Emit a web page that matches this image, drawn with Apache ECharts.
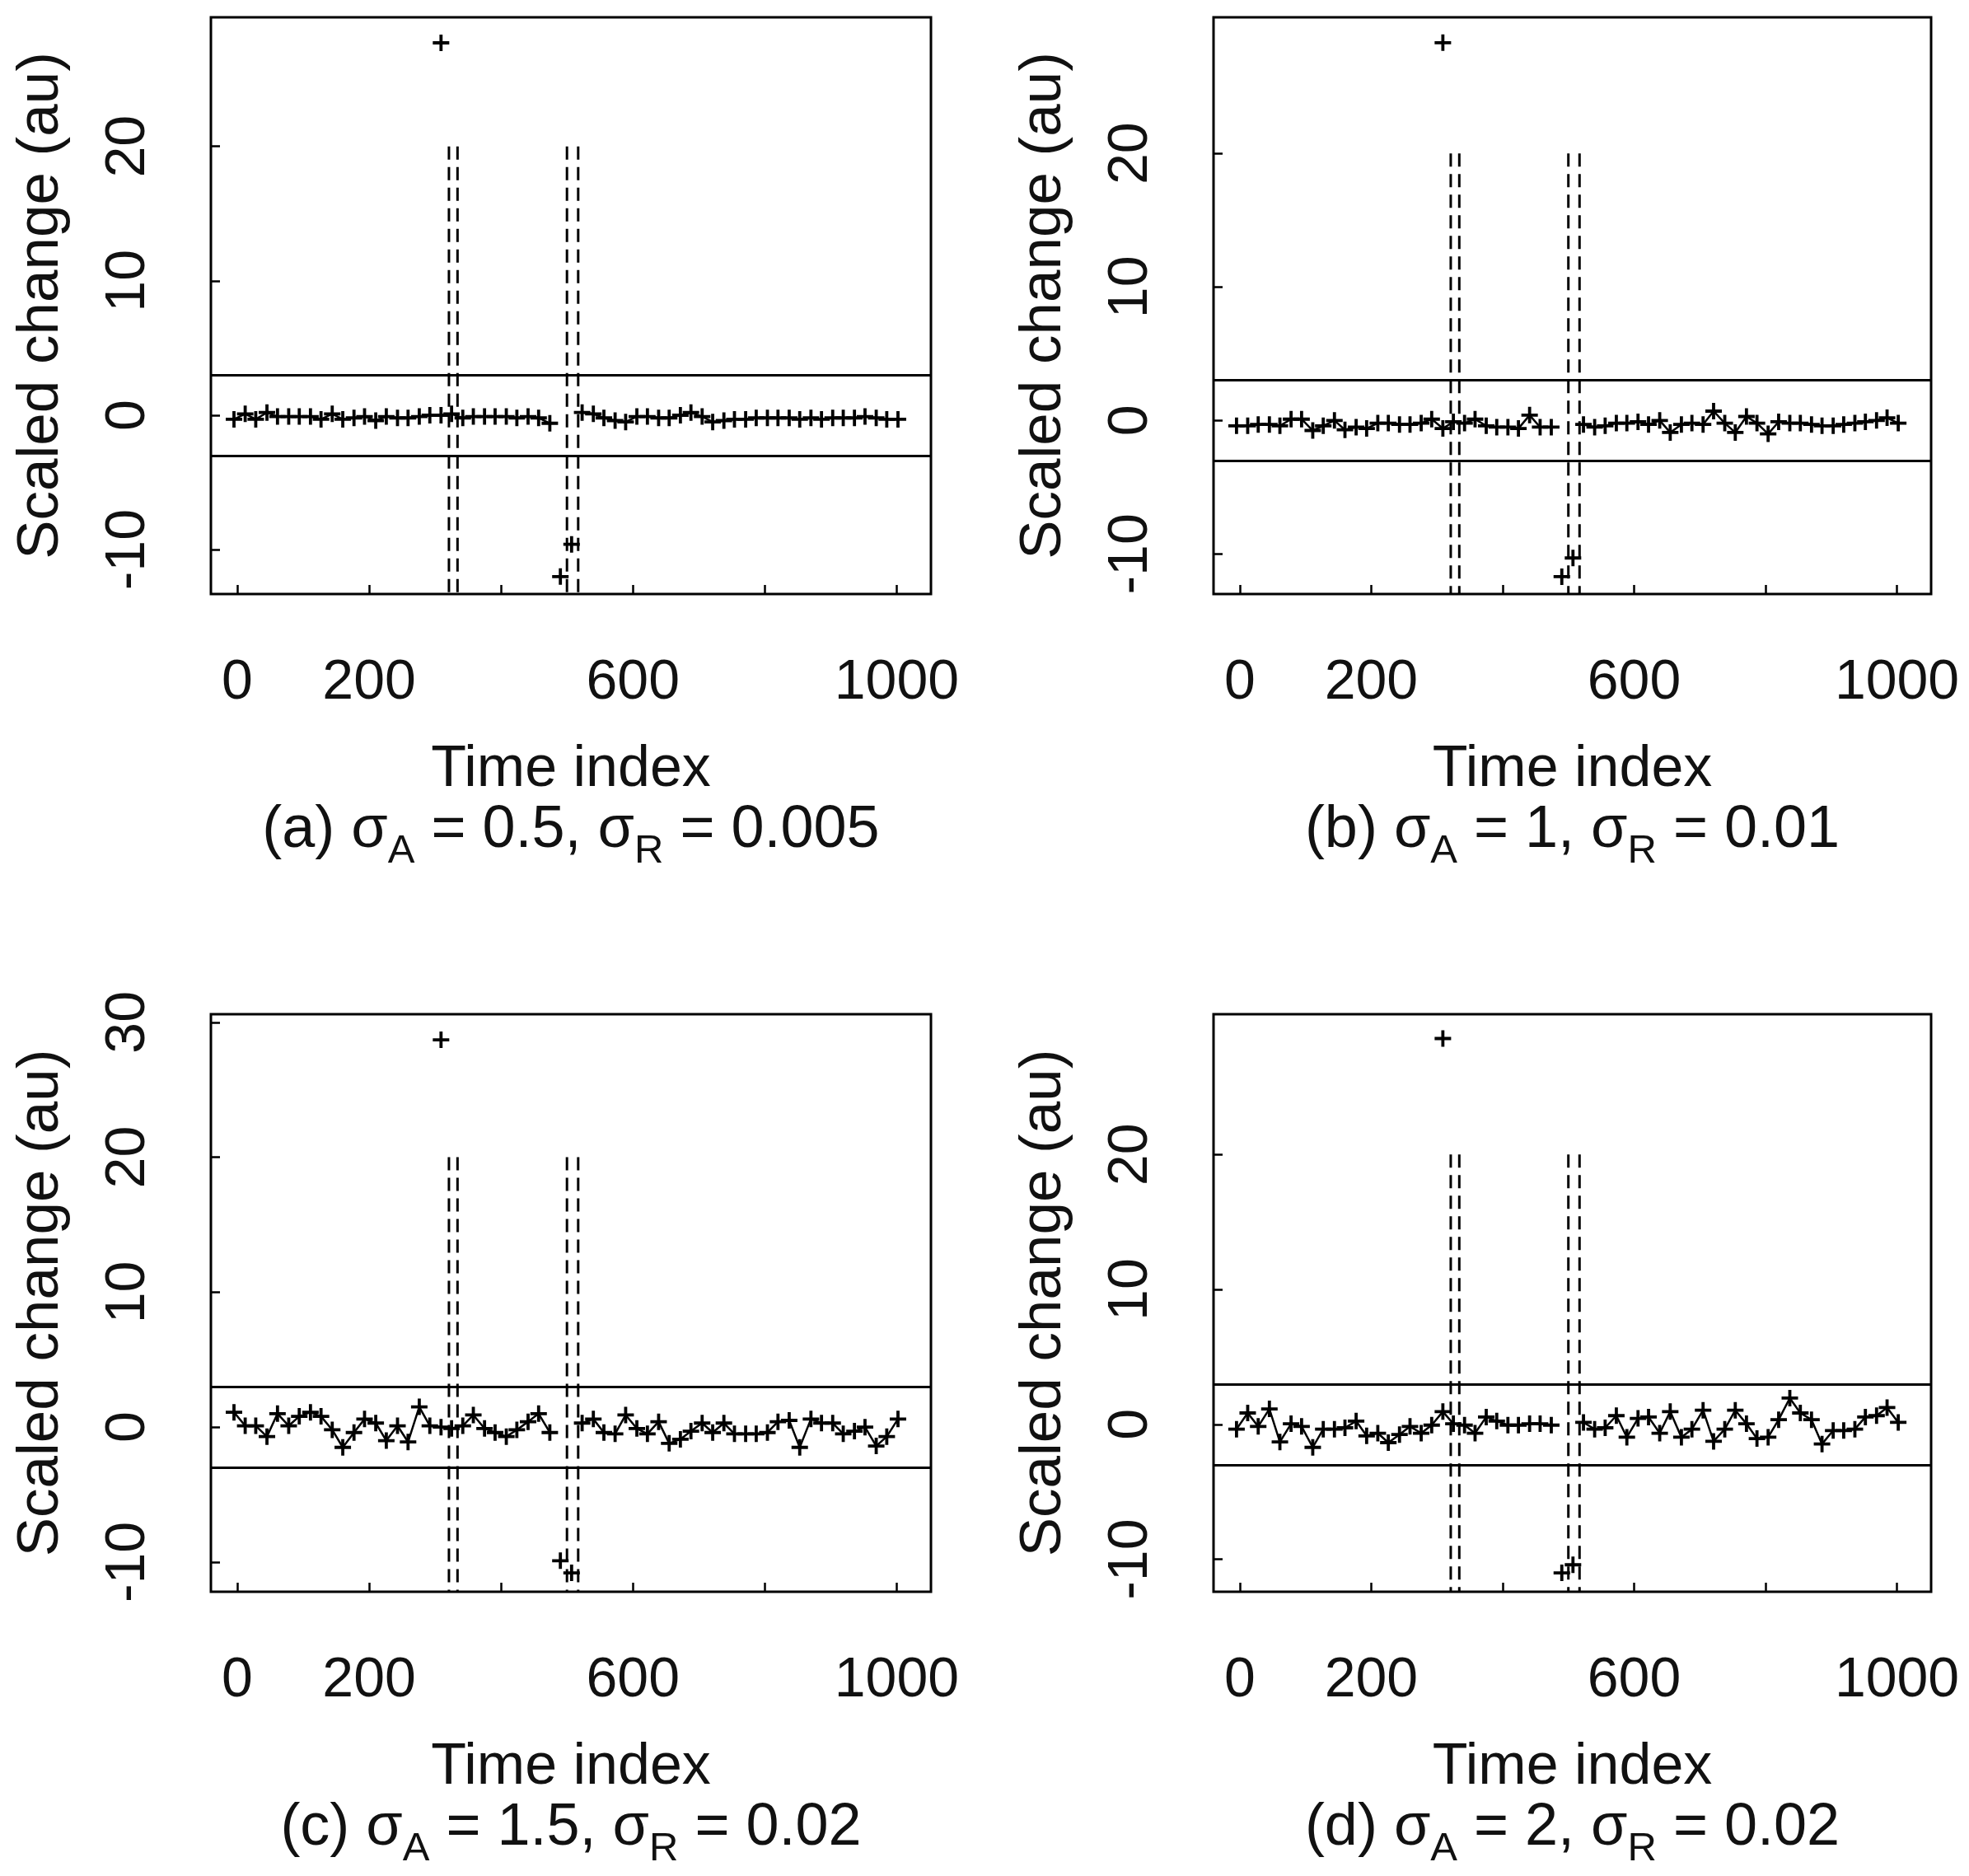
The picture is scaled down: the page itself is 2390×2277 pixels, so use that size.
<!DOCTYPE html>
<html lang="en">
<head>
<meta charset="UTF-8">
<title>Scaled change</title>
<script src="https://cdn.jsdelivr.net/npm/echarts@6/dist/echarts.min.js"></script>
<style>
    html, body { margin: 0; padding: 0; background: #fff; }
    #container { width: 2390px; height: 2277px; }
</style>
</head>
<body>
<div id="container"></div>
<script>
    // time index of the plotted points (shared by the four panels)
    var timeIndex = [-5, 12, 28, 45, 61, 78, 94, 111, 127, 144,
        160, 177, 193, 210, 226, 243, 259, 276, 292, 309,
        325, 342, 358, 375, 391, 408, 424, 441, 457, 474,
        490, 507, 523, 540, 556, 573, 589, 606, 622, 639,
        655, 672, 688, 705, 721, 738, 754, 771, 787, 804,
        820, 837, 853, 870, 886, 903, 919, 936, 952, 969,
        985, 1002];

    // scaled change, '-' = no point (line broken)
    var changeA = [-0.3, 0.1, -0.3, 0.2, -0.1, -0.1, -0.1, -0.1, -0.3, 0.1,
        -0.3, -0.2, -0.1, -0.4, -0.1, -0.2, -0.2, -0.1, 0.0, 0.0,
        0.1, -0.2, -0.1, -0.1, -0.1, -0.1, -0.2, -0.1, -0.2, -0.6,
        '-', '-',
        0.2, 0.1, -0.2, -0.4, -0.5, -0.1, -0.1, -0.2, -0.2, 0.0,
        0.2, -0.1, -0.5, -0.4, -0.3, -0.3, -0.2, -0.2, -0.2, -0.2,
        -0.3, -0.2, -0.3, -0.2, -0.2, -0.2, -0.1, -0.2, -0.3, -0.3];
    var changeB = [-0.4, -0.4, -0.3, -0.3, -0.4, 0.1, 0.1, -0.75, -0.4, 0.0,
        -0.7, -0.5, -0.6, -0.2, -0.2, -0.3, -0.3, -0.2, 0.1, -0.6,
        -0.1, -0.2, 0.1, -0.4, -0.5, -0.5, -0.6, 0.4, -0.5, -0.5,
        '-', '-',
        -0.3, -0.5, -0.4, -0.2, -0.2, -0.1, -0.3, 0.0, -0.9, -0.3,
        -0.2, -0.3, 0.7, -0.2, -0.9, 0.3, -0.2, -1.0, -0.1, -0.2,
        -0.2, -0.3, -0.4, -0.4, -0.3, -0.2, -0.1, 0.0, 0.2, -0.2];
    var changeC = [1.1, 0.1, 0.1, -0.7, 1.0, 0.1, 0.8, 1.1, 0.8, -0.2,
        -1.5, -0.4, 0.6, 0.3, -1.0, 0.1, -1.1, 1.5, 0.1, 0.0,
        -0.1, 0.1, 0.9, -0.1, -0.4, -0.7, -0.2, 0.4, 1.0, -0.4,
        '-', '-',
        0.3, 0.6, -0.4, -0.5, 0.9, -0.1, -0.5, 0.4, -1.2, -0.9,
        -0.3, 0.3, -0.4, 0.3, -0.5, -0.5, -0.5, -0.4, 0.4, 0.5,
        -1.5, 0.6, 0.3, 0.3, -0.5, -0.3, 0.0, -1.4, -0.7, 0.6];
    var changeD = [-0.35, 0.85, -0.15, 1.15, -1.3, 0.05, -0.15, -1.7, -0.35, -0.35,
        -0.25, 0.25, -0.85, -0.65, -1.35, -0.75, -0.15, -0.65, -0.05, 0.95,
        0.05, -0.05, -0.65, 0.55, 0.25, -0.05, -0.05, 0.05, 0.05, -0.05,
        '-', '-',
        0.15, -0.35, -0.25, 0.65, -0.95, 0.45, 0.55, -0.65, 0.95, -0.95,
        -0.35, 1.05, -1.25, -0.35, 1.05, 0.05, -1.05, -0.95, 0.35, 1.95,
        0.85, 0.35, -1.45, -0.45, -0.45, -0.35, 0.55, 0.65, 1.25, 0.15];

    // the three large changes
    var outlierIndex = [309, 490, 507];
    var outlierA = [27.7, -12.0, -9.6];
    var outlierB = [28.3, -11.7, -10.3];
    var outlierC = [28.7, -9.9, -10.8];
    var outlierD = [28.6, -11.0, -10.4];

    var limits = [3, -3];
    var changePoints = [321, 334, 500, 517];
    var changeTop = 20;

    var xTicks = [0, 200, 400, 600, 800, 1000];
    var xLabels = [0, 200, 600, 1000];
    var yTicks = [-10, 0, 10, 20];
    var yTicksC = [-10, 0, 10, 20, 30];

    var captions = [
        '{m|(a) σ}{s|A}{m| = 0.5, σ}{s|R}{m| = 0.005}',
        '{m|(b) σ}{s|A}{m| = 1, σ}{s|R}{m| = 0.01}',
        '{m|(c) σ}{s|A}{m| = 1.5, σ}{s|R}{m| = 0.02}',
        '{m|(d) σ}{s|A}{m| = 2, σ}{s|R}{m| = 0.02}'
    ];

    var myChart = echarts.init(document.getElementById('container'));
    var font = 'Liberation Sans';
    var ink = '#111';
    // filled "+" marker (R pch = 3)
    var plus = 'path://M-0.19,-1L0.19,-1L0.19,-0.19L1,-0.19L1,0.19L0.19,0.19L0.19,1L-0.19,1L-0.19,0.19L-1,0.19L-1,-0.19L-0.19,-0.19Z';

    function plainNumber(v) { return String(v); }

    // panel boxes (px) and y ranges
    var panels = [
        { left: 256, top: 21, width: 874, height: 700, ymin: -13.3, ymax: 29.6, change: changeA, out: outlierA, ticks: yTicks },
        { left: 1473, top: 21, width: 871, height: 700, ymin: -13.0, ymax: 30.2, change: changeB, out: outlierB, ticks: yTicks },
        { left: 256, top: 1231, width: 874, height: 701, ymin: -12.2, ymax: 30.6, change: changeC, out: outlierC, ticks: yTicksC },
        { left: 1473, top: 1231, width: 871, height: 701, ymin: -12.4, ymax: 30.4, change: changeD, out: outlierD, ticks: yTicks }
    ];

    var grid = [], xAxis = [], yAxis = [], series = [], title = [];

    panels.forEach(function (p, i) {
        grid.push({
            left: p.left, top: p.top, width: p.width, height: p.height,
            show: true, borderColor: '#000', borderWidth: 3, backgroundColor: 'transparent'
        });
        xAxis.push({
            type: 'value', gridIndex: i, min: -40, max: 1052,
            axisLine: { show: false, onZero: false }, splitLine: { show: false },
            axisTick: { inside: true, length: 11, customValues: xTicks, lineStyle: { color: '#000', width: 2.5 } },
            axisLabel: { customValues: xLabels, formatter: plainNumber, fontSize: 68, fontFamily: font, color: ink, margin: 74 },
            name: 'Time index', nameLocation: 'middle', nameGap: 179,
            nameTextStyle: { fontSize: 70, fontFamily: font, color: ink }
        });
        yAxis.push({
            type: 'value', gridIndex: i, min: p.ymin, max: p.ymax,
            axisLine: { show: false, onZero: false }, splitLine: { show: false },
            axisTick: { inside: true, length: 11, customValues: p.ticks, lineStyle: { color: '#000', width: 2.5 } },
            axisLabel: { customValues: p.ticks, formatter: plainNumber, rotate: 90, fontSize: 68, fontFamily: font, color: ink, margin: 66 },
            name: 'Scaled change (au)', nameLocation: 'middle', nameRotate: 90, nameGap: 170,
            nameTextStyle: { fontSize: 71, fontFamily: font, color: ink }
        });

        series.push({
            type: 'line', xAxisIndex: i, yAxisIndex: i,
            data: timeIndex.map(function (t, k) { return [t, p.change[k]]; }),
            symbol: plus, symbolSize: 20, showAllSymbol: true,
            itemStyle: { color: '#000', borderWidth: 0 },
            lineStyle: { color: '#000', width: 2.5 },
            markLine: {
                silent: true, symbol: 'none', label: { show: false },
                lineStyle: { color: '#000', type: 'solid', width: 3 },
                data: limits.map(function (v) { return { yAxis: v }; })
            }
        });
        series.push({
            type: 'scatter', xAxisIndex: i, yAxisIndex: i,
            data: outlierIndex.map(function (t, k) { return [t, p.out[k]]; }),
            symbol: plus, symbolSize: 20,
            itemStyle: { color: '#000', borderWidth: 0, opacity: 1 }
        });
        changePoints.forEach(function (cp) {
            series.push({
                type: 'line', xAxisIndex: i, yAxisIndex: i,
                data: [[cp, changeTop], [cp, p.ymin]],
                symbol: 'none',
                lineStyle: { color: '#000', width: 3, type: [16, 9] }
            });
        });

        title.push({
            text: captions[i],
            left: p.left + p.width / 2, top: p.top + p.height + 237,
            textAlign: 'center', padding: 0,
            textStyle: {
                fontWeight: 'normal',
                rich: {
                    m: { fontSize: 72, fontFamily: font, fontWeight: 'normal', color: ink, lineHeight: 100, verticalAlign: 'middle' },
                    s: { fontSize: 49, fontFamily: font, fontWeight: 'normal', color: ink, lineHeight: 48, verticalAlign: 'bottom' }
                }
            }
        });
    });

    var option = {
        animation: false,
        backgroundColor: '#fff',
        title: title,
        grid: grid,
        xAxis: xAxis,
        yAxis: yAxis,
        series: series
    };

    myChart.setOption(option);
</script>
</body>
</html>
